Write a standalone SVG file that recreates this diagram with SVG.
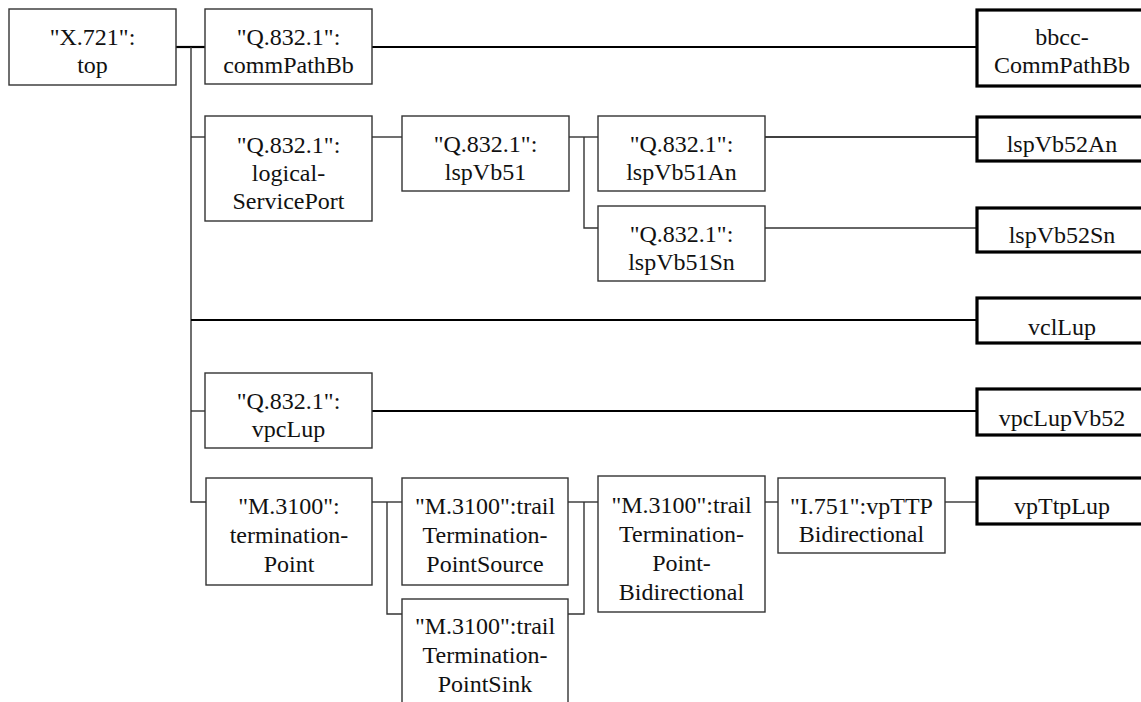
<svg xmlns="http://www.w3.org/2000/svg" width="1141" height="702" viewBox="0 0 1141 702">
  <style>
    .box { fill: #fff; stroke: #333; stroke-width: 1.4; }
    .leaf { fill: #fff; stroke: #000; stroke-width: 3.2; }
    text { font-family: "Liberation Serif", "DejaVu Serif", serif; font-size: 24px; fill: #111; text-anchor: middle; }
    .c { fill: none; stroke: #333; stroke-width: 1.4; }
    .cb { fill: none; stroke: #000; stroke-width: 2.2; }
  </style>
  <rect width="1141" height="702" fill="#fff"/>

  <!-- connectors -->
  <g id="connectors">
    <path class="cb" d="M176 47 H205"/>
    <path class="c" d="M191 47 V502 H206"/>
    <path class="c" d="M191 137 H205"/>
    <path class="cb" d="M372 47 H976"/>
    <path class="c" d="M372 137 H402"/>
    <path class="c" d="M569 137 H598"/>
    <path class="c" d="M584 137 V228 H598"/>
    <path class="cb" d="M765 137 H976" style="stroke-width:1.6"/>
    <path class="c" d="M765 228 H976"/>
    <path class="cb" d="M191 320 H976"/>
    <path class="c" d="M191 411 H205"/>
    <path class="cb" d="M372 411 H976"/>
    <path class="c" d="M372 502 H402"/>
    <path class="c" d="M387 502 V614 H402"/>
    <path class="c" d="M568 502 H598"/>
    <path class="c" d="M584 502 V614 H568"/>
    <path class="c" d="M765 502 H778"/>
    <path class="c" d="M945 502 H976"/>
  </g>

  <!-- class nodes -->
  <g id="x721-top">
    <rect class="box" x="9" y="9" width="167" height="76"/>
    <text x="92.5" y="45">"X.721":</text>
    <text x="92.5" y="73">top</text>
  </g>
  <g id="commPathBb">
    <rect class="box" x="205" y="9" width="167" height="75"/>
    <text x="288.5" y="45">"Q.832.1":</text>
    <text x="288.5" y="73">commPathBb</text>
  </g>
  <g id="logicalServicePort">
    <rect class="box" x="205" y="116" width="167" height="105"/>
    <text x="288.5" y="153">"Q.832.1":</text>
    <text x="288.5" y="181">logical-</text>
    <text x="288.5" y="209">ServicePort</text>
  </g>
  <g id="lspVb51">
    <rect class="box" x="402" y="116" width="167" height="75"/>
    <text x="485.5" y="152">"Q.832.1":</text>
    <text x="485.5" y="180">lspVb51</text>
  </g>
  <g id="lspVb51An">
    <rect class="box" x="598" y="116" width="167" height="75"/>
    <text x="681.5" y="152">"Q.832.1":</text>
    <text x="681.5" y="180">lspVb51An</text>
  </g>
  <g id="lspVb51Sn">
    <rect class="box" x="598" y="206" width="167" height="75"/>
    <text x="681.5" y="242">"Q.832.1":</text>
    <text x="681.5" y="270">lspVb51Sn</text>
  </g>
  <g id="vpcLup">
    <rect class="box" x="205" y="373" width="167" height="75"/>
    <text x="288.5" y="409">"Q.832.1":</text>
    <text x="288.5" y="437">vpcLup</text>
  </g>
  <g id="terminationPoint">
    <rect class="box" x="206" y="478" width="166" height="107"/>
    <text x="289" y="514">"M.3100":</text>
    <text x="289" y="543">termination-</text>
    <text x="289" y="572">Point</text>
  </g>
  <g id="trailTerminationPointSource">
    <rect class="box" x="402" y="478" width="166" height="107"/>
    <text x="485" y="514">"M.3100":trail</text>
    <text x="485" y="543">Termination-</text>
    <text x="485" y="572">PointSource</text>
  </g>
  <g id="trailTerminationPointSink">
    <rect class="box" x="402" y="599" width="166" height="120"/>
    <text x="485" y="634">"M.3100":trail</text>
    <text x="485" y="663">Termination-</text>
    <text x="485" y="692">PointSink</text>
  </g>
  <g id="trailTerminationPointBidirectional">
    <rect class="box" x="598" y="476" width="167" height="136"/>
    <text x="681.5" y="513">"M.3100":trail</text>
    <text x="681.5" y="542">Termination-</text>
    <text x="681.5" y="571">Point-</text>
    <text x="681.5" y="600">Bidirectional</text>
  </g>
  <g id="vpTTPBidirectional">
    <rect class="box" x="778" y="478" width="167" height="75"/>
    <text x="861.5" y="514">"I.751":vpTTP</text>
    <text x="861.5" y="542">Bidirectional</text>
  </g>

  <!-- name-binding leaves -->
  <g id="bbccCommPathBb">
    <rect class="leaf" x="977" y="10" width="172" height="76"/>
    <text x="1062" y="45">bbcc-</text>
    <text x="1062" y="73">CommPathBb</text>
  </g>
  <g id="lspVb52An">
    <rect class="leaf" x="977" y="117" width="172" height="44"/>
    <text x="1062" y="152">lspVb52An</text>
  </g>
  <g id="lspVb52Sn">
    <rect class="leaf" x="977" y="208" width="172" height="44"/>
    <text x="1062" y="243">lspVb52Sn</text>
  </g>
  <g id="vclLup">
    <rect class="leaf" x="977" y="298" width="172" height="45"/>
    <text x="1062" y="335">vclLup</text>
  </g>
  <g id="vpcLupVb52">
    <rect class="leaf" x="977" y="389" width="172" height="46"/>
    <text x="1062" y="426">vpcLupVb52</text>
  </g>
  <g id="vpTtpLup">
    <rect class="leaf" x="977" y="478" width="172" height="46"/>
    <text x="1062" y="514">vpTtpLup</text>
  </g>
</svg>
